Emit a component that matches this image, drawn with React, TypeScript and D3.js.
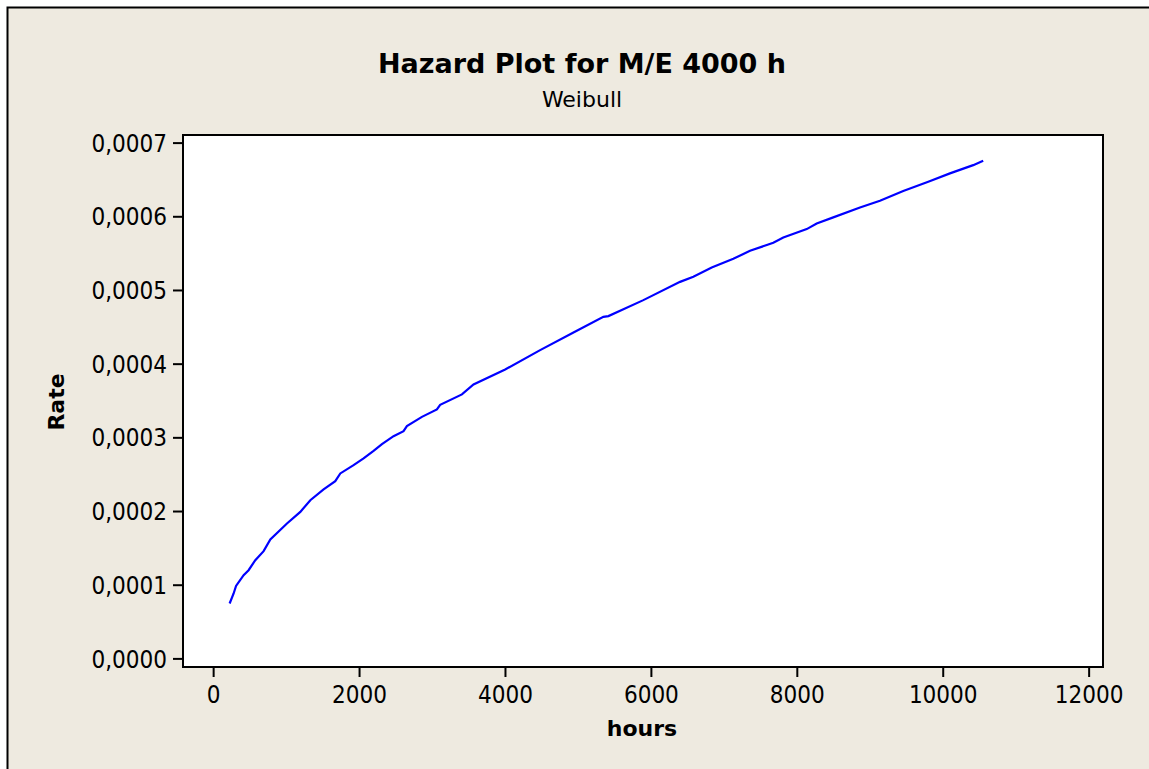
import React from "react";
import * as d3 from "d3";

const hours = [219, 274, 307, 411, 479, 571, 685, 777, 1005, 1188, 1325, 1507, 1667, 1736, 1918, 2055, 2192, 2307, 2466, 2603, 2649, 2855, 3060, 3105, 3403, 3562, 3996, 4475, 4932, 5342, 5411, 5890, 6393, 6575, 6827, 7123, 7352, 7671, 7808, 8129, 8266, 8493, 8859, 9133, 9452, 9795, 10092, 10411, 10548];
const rates = [0.0000752, 0.0000888, 0.0000991, 0.0001136, 0.0001204, 0.000134, 0.0001462, 0.0001621, 0.0001838, 0.0001995, 0.0002154, 0.00023, 0.0002412, 0.0002517, 0.0002629, 0.000272, 0.0002823, 0.0002914, 0.0003023, 0.0003091, 0.0003159, 0.0003285, 0.0003385, 0.0003448, 0.0003589, 0.0003725, 0.0003928, 0.000419, 0.000443, 0.0004642, 0.0004652, 0.0004869, 0.0005117, 0.0005185, 0.0005313, 0.000543, 0.0005538, 0.0005647, 0.000572, 0.0005833, 0.000591, 0.0005992, 0.0006127, 0.0006217, 0.0006349, 0.0006475, 0.0006589, 0.0006701, 0.000676];
const xTicks = [0, 2000, 4000, 6000, 8000, 10000, 12000];
const yTicks = [0, 0.0001, 0.0002, 0.0003, 0.0004, 0.0005, 0.0006, 0.0007];

const W = 1149;
const H = 769;
const FONT = "'DejaVu Sans', Verdana, sans-serif";
const FONT_C = "'DejaVu Sans Condensed', 'DejaVu Sans', sans-serif";

export default function App() {
  const left = 183, right = 1103, top = 135, bottom = 667;
  const x = d3.scaleLinear().domain([-420, 12190]).range([left, right]);
  const y = d3.scaleLinear().domain([-0.000011, 0.000711]).range([bottom, top]);
  const pts = hours.map((h, i) => [h, rates[i]] as [number, number]);
  const line = d3.line<[number, number]>().x(d => x(d[0])).y(d => y(d[1]));
  const fmt = (v: number) => v.toFixed(4).replace(".", ",");
  return (
    <div style={{ position: "absolute", left: 0, top: 0 }}>
      <svg width={W} height={H} style={{ display: "block" }}>
        <rect x={0} y={0} width={W} height={H} fill="#ffffff" />
        <rect x={7.5} y={7.5} width={W + 10} height={H + 10} fill="#EEEAE0" stroke="#000" strokeWidth={2} />
        <rect x={left} y={top} width={right - left} height={bottom - top} fill="#ffffff" stroke="#000" strokeWidth={2} />
        {xTicks.map(t => (
          <g key={"x" + t}>
            <line x1={x(t)} x2={x(t)} y1={bottom} y2={bottom + 10} stroke="#000" strokeWidth={2} />
            <text x={x(t)} y={703} textAnchor="middle" fontFamily={FONT_C} fontSize={24} fill="#000">{t}</text>
          </g>
        ))}
        {yTicks.map(t => (
          <g key={"y" + t}>
            <line x1={left - 10} x2={left} y1={y(t)} y2={y(t)} stroke="#000" strokeWidth={2} />
            <text x={167} y={y(t)} dy="0.36em" textAnchor="end" fontFamily={FONT_C} fontSize={24} fill="#000">{fmt(t)}</text>
          </g>
        ))}
        <path d={line(pts) || ""} fill="none" stroke="#0000FF" strokeWidth={2.2} />
        <text x={582} y={73} textAnchor="middle" fontFamily={FONT} fontWeight="bold" fontSize={27} fill="#000">Hazard Plot for M/E 4000 h</text>
        <text x={582} y={107} textAnchor="middle" fontFamily={FONT} fontSize={22} fill="#000">Weibull</text>
        <text x={642} y={736} textAnchor="middle" fontFamily={FONT} fontWeight="bold" fontSize={22} fill="#000">hours</text>
        <text transform="translate(64,402) rotate(-90)" textAnchor="middle" fontFamily={FONT} fontWeight="bold" fontSize={22} fill="#000">Rate</text>
      </svg>
    </div>
  );
}
